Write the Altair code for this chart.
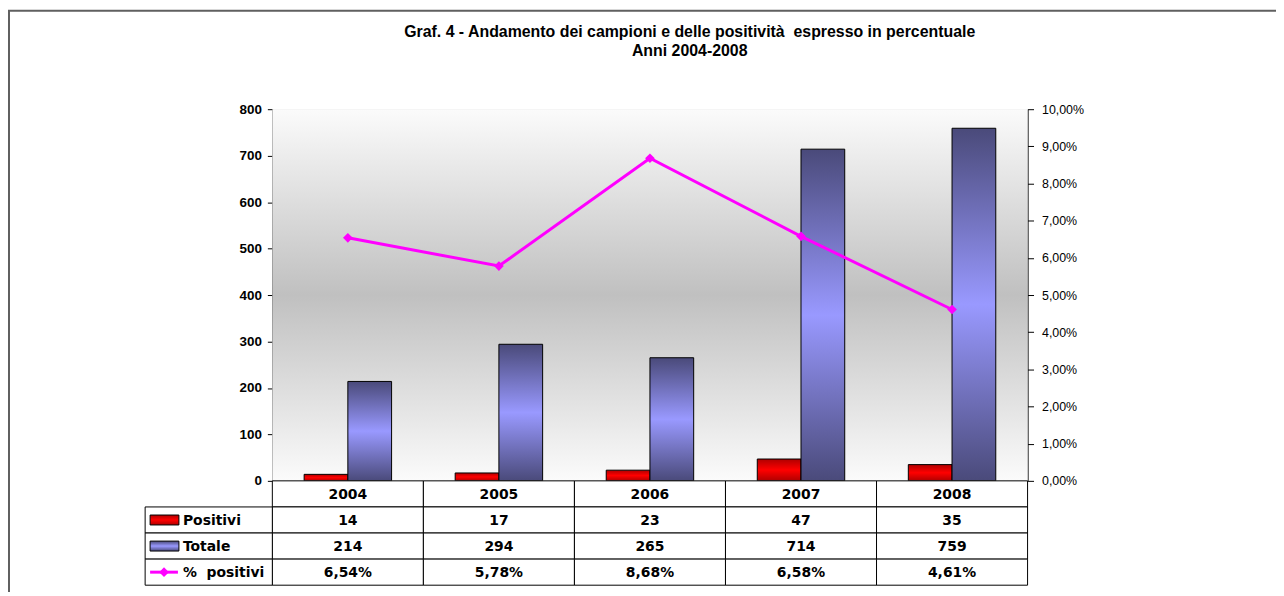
import altair as alt
import pandas as pd

# ---------------- data ----------------
years = ["2004", "2005", "2006", "2007", "2008"]
positivi = [14, 17, 23, 47, 35]
totale = [214, 294, 265, 714, 759]
pct = [0.0654, 0.0578, 0.0868, 0.0658, 0.0461]
pct_labels = ["6,54%", "5,78%", "8,68%", "6,58%", "4,61%"]
series = ["Positivi", "Totale"]
row_names = ["Positivi", "Totale", "%\u00a0 positivi"]
left_ticks = [0, 100, 200, 300, 400, 500, 600, 700, 800]
right_ticks = [0.0, 0.01, 0.02, 0.03, 0.04, 0.05, 0.06, 0.07, 0.08, 0.09, 0.10]
title_lines = [
    "Graf. 4 - Andamento dei campioni e delle positività\u00a0 espresso in percentuale",
    "Anni 2004-2008",
]

W, H = 760, 374
FONT = "Liberation Sans"
TFONT = "DejaVu Sans"

bars_df = pd.DataFrame({
    "year": years * 2,
    "serie": [series[0]] * 5 + [series[1]] * 5,
    "valore": positivi + totale,
})
line_df = pd.DataFrame({"year": years, "pct": pct})

cells_df = pd.DataFrame({
    "year": [y for y in years for r in range(4)],
    "row": [r for y in years for r in range(4)],
})
text_df = pd.DataFrame({
    "year": years * 4,
    "row": [0] * 5 + [1] * 5 + [2] * 5 + [3] * 5,
    "label": years + [str(v) for v in positivi] + [str(v) for v in totale] + pct_labels,
})
rowlab_df = pd.DataFrame({"row": [1, 2, 3], "name": row_names})
title_df = pd.DataFrame({"line": [0, 1], "text": title_lines})
dummy = pd.DataFrame({"k": [0]})


def grad(c_edge, c_mid, mid=0.5):
    return alt.LinearGradient(
        gradient="linear",
        stops=[alt.GradientStop(offset=0, color=c_edge),
               alt.GradientStop(offset=mid, color=c_mid),
               alt.GradientStop(offset=1, color=c_edge)],
        x1=0, x2=0, y1=0, y2=1,
    )


red_grad = grad("#b00000", "#ff0000")
blue_grad = grad("#4a4a7a", "#9999ff")
bg_grad = grad("#fbfbfb", "#c0c0c0", 0.5)

xscale = alt.Scale(domain=years, paddingInner=0.421, paddingOuter=0.2105)
xenc = alt.X("year:O", scale=xscale, axis=None)
row_scale = alt.Scale(type="band", domain=[0, 1, 2, 3], range=[374, 479],
                      paddingInner=0, paddingOuter=0)
yrow = alt.Y("row:O", scale=row_scale, axis=None)

# ---------------- plot area ----------------
background = alt.Chart(dummy).mark_rect(fill=bg_grad).encode(
    x=alt.value(0), x2=alt.value(W), y=alt.value(0), y2=alt.value(H)
)

yleft = alt.Y(
    "valore:Q",
    scale=alt.Scale(domain=[0, 800], nice=False),
    axis=alt.Axis(orient="left", values=left_ticks, title=None, grid=False,
                  labelFont=FONT, labelFontWeight="bold", labelFontSize=13.5,
                  labelColor="black", domainColor="black", tickColor="black",
                  tickSize=5, labelPadding=6),
)
xoff = alt.XOffset("serie:N", scale=alt.Scale(domain=series, paddingInner=0, paddingOuter=0))

red_bars = alt.Chart(bars_df).transform_filter(alt.datum.serie == series[0]).mark_bar(
    fill=red_grad, stroke="black", strokeWidth=1
).encode(x=xenc, xOffset=xoff, y=yleft)
blue_bars = alt.Chart(bars_df).transform_filter(alt.datum.serie == series[1]).mark_bar(
    fill=blue_grad, stroke="black", strokeWidth=1
).encode(x=xenc, xOffset=xoff, y=yleft)
bars = alt.layer(red_bars, blue_bars)

line = alt.Chart(line_df).mark_line(
    color="#ff00ff", strokeWidth=3,
    point=alt.OverlayMarkDef(shape="diamond", filled=True, size=95, color="#ff00ff"),
).encode(
    x=xenc,
    y=alt.Y("pct:Q", scale=alt.Scale(domain=[0, 0.1], nice=False),
            axis=alt.Axis(orient="right", values=right_ticks, title=None, grid=False,
                          labelExpr="replace(format(datum.value, '.2%'), '.', ',')",
                          labelFont=FONT, labelFontSize=12.5, labelColor="black",
                          domainColor="black", tickColor="black", tickSize=6,
                          labelPadding=8)),
)

# ---------------- title ----------------
title = alt.Chart(title_df).mark_text(
    font=FONT, fontSize=16, fontWeight="bold", color="black", baseline="middle",
    align="center"
).encode(
    x=alt.value(420),
    y=alt.Y("line:O", scale=alt.Scale(type="point", domain=[0, 1], range=[-78, -59],
                                      padding=0), axis=None),
    text="text:N",
)

# ---------------- data table ----------------
cells = alt.Chart(cells_df).mark_rect(width=152, fill="white", stroke="black",
                                      strokeWidth=1).encode(x=xenc, y=yrow)
label_cells = alt.Chart(rowlab_df).mark_rect(fill="white", stroke="black",
                                             strokeWidth=1).encode(
    x=alt.value(-128), x2=alt.value(0), y=yrow)
values_text = alt.Chart(text_df).mark_text(
    font=TFONT, fontWeight="bold", fontSize=14, baseline="middle", color="black", dy=1
).encode(x=xenc, y=yrow, text="label:N")
row_text = alt.Chart(rowlab_df).mark_text(
    font=TFONT, fontWeight="bold", fontSize=14, baseline="middle", align="left",
    color="black", dy=1
).encode(x=alt.value(-90), y=yrow, text="name:N")

sym_red = alt.Chart(rowlab_df).transform_filter(alt.datum.row == 1).mark_bar(
    height=10, fill=red_grad, stroke="black", strokeWidth=1
).encode(x=alt.value(-123), x2=alt.value(-94), y=yrow)
sym_blue = alt.Chart(rowlab_df).transform_filter(alt.datum.row == 2).mark_bar(
    height=10, fill=blue_grad, stroke="black", strokeWidth=1
).encode(x=alt.value(-123), x2=alt.value(-94), y=yrow)
sym_line = alt.Chart(rowlab_df).transform_filter(alt.datum.row == 3).mark_rule(
    color="#ff00ff", strokeWidth=3
).encode(x=alt.value(-123), x2=alt.value(-95), y=yrow)
sym_pt = alt.Chart(rowlab_df).transform_filter(alt.datum.row == 3).mark_point(
    shape="diamond", filled=True, size=95, color="#ff00ff", opacity=1
).encode(x=alt.value(-109), y=yrow)

table = alt.layer(cells, label_cells, values_text, row_text,
                  sym_red, sym_blue, sym_line, sym_pt)

frame = alt.Chart(dummy).mark_rect(fillOpacity=0, stroke="#606060", strokeWidth=2).encode(
    x=alt.value(-265), x2=alt.value(1200), y=alt.value(-99), y2=alt.value(700)
)

chart = alt.layer(background, bars, line, table, title, frame).resolve_scale(
    y="independent"
).properties(
    width=W, height=H,
    autosize=alt.AutoSizeParams(type="none"),
    padding={"left": 266, "top": 100, "right": 250, "bottom": 110},
).configure_view(stroke="#808080", strokeWidth=1).configure(background="white")

chart.save("out.html", embed_options={"renderer": "svg", "actions": False})
